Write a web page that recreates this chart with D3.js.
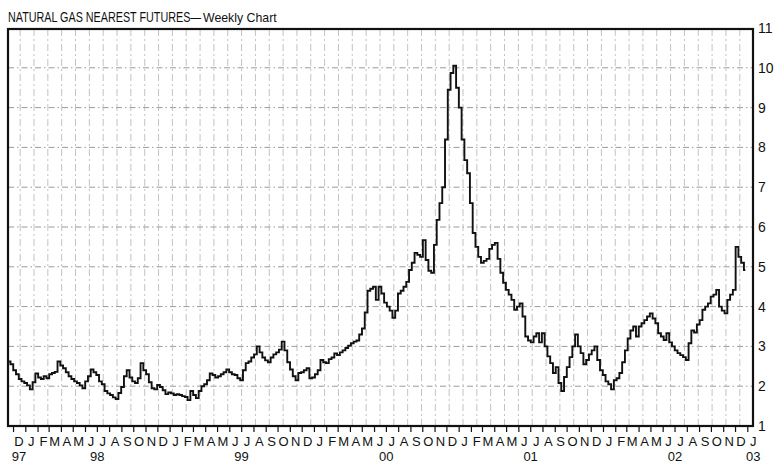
<!DOCTYPE html>
<html>
<head>
<meta charset="utf-8">
<script src="https://cdn.jsdelivr.net/npm/d3@7"></script>
<style>
  html, body { margin: 0; padding: 0; background: #fff; }
  svg { display: block; }
  text { font-family: "Liberation Sans", Arial, Helvetica, sans-serif; fill: #111; }
</style>
</head>
<body>
<script>
// ---------- DATA ----------
const chartTitle = "NATURAL GAS NEAREST FUTURES";
const chartSubtitle = "Weekly Chart";
const firstWeek = "1997-11-21";
const lastWeek = "2002-12-27";
// weekly settle, $/MMBtu
const weekCloses = [
  2.62,2.55,2.40,2.30,2.18,2.12,2.08,2.02,1.92,2.10,
  2.32,2.22,2.18,2.25,2.20,2.30,2.33,2.36,2.62,2.52,
  2.45,2.35,2.25,2.18,2.12,2.08,2.02,1.95,2.12,2.25,
  2.42,2.35,2.28,2.12,2.05,1.88,1.82,1.78,1.72,1.68,
  1.83,1.98,2.25,2.40,2.22,2.12,2.08,2.20,2.58,2.40,
  2.30,2.10,1.95,1.92,2.03,1.98,1.90,1.80,1.84,1.82,
  1.78,1.80,1.78,1.75,1.73,1.65,1.88,1.78,1.70,1.88,
  2.00,2.05,2.15,2.32,2.28,2.22,2.25,2.30,2.35,2.42,
  2.35,2.30,2.28,2.20,2.15,2.40,2.58,2.62,2.72,2.80,
  3.00,2.85,2.72,2.65,2.60,2.72,2.80,2.85,2.92,3.12,
  2.90,2.60,2.42,2.25,2.15,2.33,2.35,2.40,2.45,2.20,
  2.22,2.30,2.40,2.66,2.60,2.58,2.68,2.72,2.82,2.78,
  2.85,2.90,2.96,3.02,3.08,3.12,3.15,3.30,3.45,3.85,
  4.40,4.45,4.50,4.17,4.50,4.33,4.10,4.00,3.90,3.72,
  3.90,4.33,4.40,4.50,4.62,4.92,5.10,5.35,5.30,5.25,
  5.67,5.17,4.90,4.85,5.55,6.18,6.60,7.00,8.20,9.45,
  9.87,10.05,9.50,9.00,8.20,7.68,7.35,6.60,5.85,5.50,
  5.25,5.10,5.15,5.20,5.45,5.55,5.60,5.20,4.85,4.60,
  4.42,4.30,4.17,3.92,4.00,4.08,3.75,3.25,3.15,3.10,
  3.25,3.33,3.10,3.33,3.00,2.75,2.58,2.33,2.48,2.08,
  1.88,2.23,2.48,2.73,3.00,3.30,3.00,2.83,2.55,2.66,
  2.80,2.90,3.00,2.66,2.40,2.28,2.12,2.05,1.92,2.15,
  2.20,2.33,2.60,2.90,3.20,3.40,3.50,3.25,3.50,3.58,
  3.66,3.75,3.83,3.70,3.58,3.33,3.25,3.16,3.33,3.10,
  3.00,2.90,2.83,2.78,2.73,2.66,3.08,3.40,3.35,3.55,
  3.66,3.92,4.00,4.08,4.25,4.30,4.42,4.00,3.90,3.83,
  4.17,4.30,4.42,5.50,5.25,5.10,4.92
];
const priceTicks = [1,2,3,4,5,6,7,8,9,10,11];
const monthInitials = ["J","F","M","A","M","J","J","A","S","O","N","D"];
const axisMonthsStart = "1997-12-01";
const axisMonthsEnd = "2003-02-01";
const yearLabelText = ["97","98","99","00","01","02","03"];
const yearLabelDates = ["1997-12-16","1998-07-02","1999-07-02","2000-07-02","2001-07-02","2002-07-02","2003-01-16"];

// ---------- LAYOUT ----------
const W = 775, H = 464;
const frame = { left: 8, right: 753, top: 29, bottom: 426 };
const parse = d3.timeParse("%Y-%m-%d");

const svg = d3.select("body").append("svg").attr("width", W).attr("height", H);

const x = d3.scaleTime()
  .domain([parse("1998-01-01"), parse("2003-01-01")])
  .range([25.3, 747.3]);
const y = d3.scaleLinear().domain([1, 11]).range([frame.bottom, 28]);

const weeks = d3.timeFriday.range(parse(firstWeek), d3.timeDay.offset(parse(lastWeek), 1));
const series = weekCloses.map((v, i) => ({ date: weeks[i], value: v }));

// ---------- GRID ----------
const grid = svg.append("g");
grid.selectAll("line.h").data(priceTicks.filter(t => t > 1 && t < 11)).join("line")
  .attr("x1", frame.left).attr("x2", frame.right)
  .attr("y1", d => y(d)).attr("y2", d => y(d))
  .attr("stroke", "#8f8f8f").attr("stroke-width", 0.9)
  .attr("stroke-dasharray", "6,3,1.5,3");

const gridWeeks = weeks.filter((d, i) => i % 5 === 4);
grid.selectAll("line.v").data(gridWeeks).join("line")
  .attr("x1", d => x(d)).attr("x2", d => x(d))
  .attr("y1", frame.top).attr("y2", frame.bottom)
  .attr("stroke", "#b3b3b3").attr("stroke-width", 0.8)
  .attr("stroke-dasharray", "7,3,2,3");

// ---------- PRICE LINE ----------
const line = d3.line()
  .x(d => x(d.date))
  .y(d => y(d.value))
  .curve(d3.curveStep);

svg.append("path").datum(series)
  .attr("d", line)
  .attr("fill", "none")
  .attr("stroke", "#111")
  .attr("stroke-width", 1.9)
  .attr("stroke-linejoin", "miter");

// ---------- FRAME ----------
svg.append("rect")
  .attr("x", frame.left).attr("y", frame.top)
  .attr("width", frame.right - frame.left).attr("height", frame.bottom - frame.top)
  .attr("fill", "none").attr("stroke", "#111").attr("stroke-width", 2.2);

// ---------- RIGHT AXIS ----------
const yAxis = d3.axisRight(y).tickValues(priceTicks).tickSize(0).tickPadding(5)
  .tickFormat(d3.format("d"));
const gy = svg.append("g").attr("transform", `translate(${frame.right},0)`).call(yAxis);
gy.select(".domain").remove();
gy.selectAll("text").style("font-size", "14px").attr("fill", "#111");

// ---------- BOTTOM AXIS ----------
const months = d3.timeMonth.range(parse(axisMonthsStart), parse(axisMonthsEnd));
const xAxis = d3.axisBottom(x).tickValues(months).tickSize(6).tickFormat("");
const gx = svg.append("g").attr("transform", `translate(0,${frame.bottom})`).call(xAxis);
gx.select(".domain").remove();
gx.selectAll(".tick line").attr("stroke", "#111").attr("stroke-width", 1.2);
gx.selectAll(".tick").filter(d => x(d) > frame.right + 0.5 || x(d) < frame.left).remove();

svg.append("g").selectAll("text").data(months).join("text")
  .attr("x", d => x(d3.timeDay.offset(d, 15)))
  .attr("y", 446)
  .attr("text-anchor", "middle")
  .style("font-size", "13px")
  .text(d => monthInitials[d.getMonth()]);

svg.append("g").selectAll("text").data(yearLabelText).join("text")
  .attr("x", (d, i) => x(parse(yearLabelDates[i])))
  .attr("y", 461)
  .attr("text-anchor", "middle")
  .style("font-size", "13px")
  .text(d => d);

// ---------- TITLE ----------
svg.append("text")
  .attr("transform", "translate(8,22) scale(0.77,1)")
  .style("font-size", "14px")
  .text(chartTitle + "\u2014");
svg.append("text")
  .attr("transform", "translate(203,22) scale(0.95,1)")
  .style("font-size", "13px")
  .text(chartSubtitle);
</script>
</body>
</html>
